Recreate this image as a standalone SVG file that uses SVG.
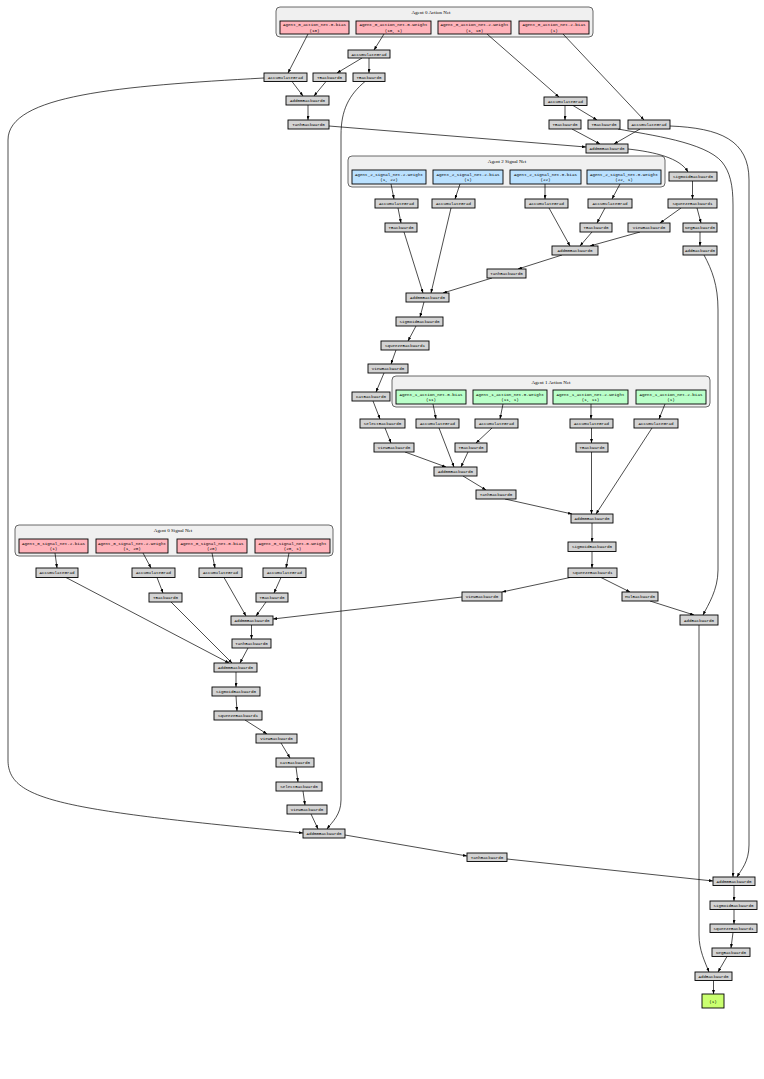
<svg xmlns="http://www.w3.org/2000/svg" width="764" height="1079" viewBox="0 0 764 1079">
<style>
.bg{fill:#ffffff}
.cl{fill:#f0f0f0;stroke:#444;stroke-width:0.8}
.ct{font-family:"Liberation Serif",serif;font-size:5px;fill:#000;text-anchor:middle}
.op rect{fill:#d3d3d3;stroke:#000;stroke-width:0.9}
.pk rect{fill:#ffb3ba;stroke:#000;stroke-width:0.9}
.bl rect{fill:#bae1ff;stroke:#000;stroke-width:0.9}
.gr rect{fill:#baffc9;stroke:#000;stroke-width:0.9}
.out rect{fill:#caff70;stroke:#000;stroke-width:0.9}
text.t{font-family:"Liberation Mono",monospace;font-size:4.2px;fill:#000;text-anchor:middle}
#edges path{fill:none;stroke:#000;stroke-width:0.7;marker-end:url(#ah)}
</style>
<defs>
<marker id="ah" markerUnits="userSpaceOnUse" markerWidth="4" markerHeight="3" refX="4" refY="1.5" orient="auto"><path d="M0,0 L4,1.5 L0,3 z" fill="#000"/></marker>
</defs>
<rect class="bg" x="0" y="0" width="764" height="1079"/>

<g id="cluster_agent0_action"><rect class="cl" x="276" y="7" width="317" height="30" rx="4"/><text class="ct" x="431" y="14">Agent 0 Action Net</text></g>
<g id="cluster_agent2_signal"><rect class="cl" x="348" y="156" width="317" height="31" rx="4"/><text class="ct" x="507" y="163">Agent 2 Signal Net</text></g>
<g id="cluster_agent1_action"><rect class="cl" x="392" y="376" width="318" height="31" rx="4"/><text class="ct" x="551" y="384">Agent 1 Action Net</text></g>
<g id="cluster_agent0_signal"><rect class="cl" x="15" y="525" width="318" height="31" rx="4"/><text class="ct" x="173" y="532">Agent 0 Signal Net</text></g>

<g id="edges">
<path d="M308,34 L288,73"/>
<path d="M384,34 L374,50"/>
<path d="M362,58 L337,73"/>
<path d="M369,58 L369,73"/>
<path d="M292,81.5 L303,96"/>
<path d="M326,81.5 L314,96"/>
<path d="M308,105 L308,120"/>
<path d="M264,78 C120,86 8,95 8,140 L8,760 C8,800 60,810 303,833"/>
<path d="M365,81.5 C349,95 341,110 341,135 L341,800 C341,815 332,822 327,829"/>
<path d="M329,126 L586,147"/>
<path d="M487,34 L559,97"/>
<path d="M563,34 L644,120"/>
<path d="M565,105.5 L565,120"/>
<path d="M573,105.5 L597,120"/>
<path d="M572,129 L600,144"/>
<path d="M640,129 L614,144"/>
<path d="M618,129 C650,135 705,142 722,162 C730,172 733,185 733,205 L733,877"/>
<path d="M670,126 C720,128 749,140 749,180 L749,845 C749,862 741,870 737,877"/>
<path d="M628,149 C655,152 680,158 688,172"/>
<path d="M391,184 L394,199"/>
<path d="M460,184 L455,199"/>
<path d="M545,184 L545,199"/>
<path d="M620,184 L612,199"/>
<path d="M398,208 L401,223"/>
<path d="M605,208 L597,223"/>
<path d="M549,208 L570,246"/>
<path d="M592,232 L580,246"/>
<path d="M640,232 L590,246"/>
<path d="M692.5,181 L692.5,199"/>
<path d="M681,208 L660,223"/>
<path d="M697,208 L701,223"/>
<path d="M700,232 L700,246"/>
<path d="M704,255 C712,270 718,285 718,310 L718,570 C718,590 708,605 703,615"/>
<path d="M562,255 L518,269"/>
<path d="M492,278 L443,293"/>
<path d="M404,232 L423,293"/>
<path d="M451,208 L431,293"/>
<path d="M424,302 L420,317"/>
<path d="M416,326 L408,341"/>
<path d="M396,350 L391,364"/>
<path d="M384,373 L376,392"/>
<path d="M373,401 L380,419"/>
<path d="M385,428 L391,443"/>
<path d="M405,452 L446,467"/>
<path d="M433,404 L436,419"/>
<path d="M503,404 L500,419"/>
<path d="M591,404 L591,419"/>
<path d="M665,404 L659,419"/>
<path d="M439,428 L454,467"/>
<path d="M492,428 L476,443"/>
<path d="M468,452 L461,467"/>
<path d="M591.5,428 L591.5,443"/>
<path d="M591.5,452 L591.5,514"/>
<path d="M652,428 L596,514"/>
<path d="M463,476 L486,490"/>
<path d="M505,499 L572,514"/>
<path d="M592,523 L592,542"/>
<path d="M592,551.5 L592,568"/>
<path d="M570,577.5 L502,592"/>
<path d="M601,577.5 L630,592"/>
<path d="M650,601 L694,615"/>
<path d="M699,625 L699,935 C699,950 705,962 709,972"/>
<path d="M462,597 L273,619"/>
<path d="M55,553 L57,568"/>
<path d="M143,553 L151,568"/>
<path d="M212,553 L215,568"/>
<path d="M289,553 L286,568"/>
<path d="M157,577.5 L163,593"/>
<path d="M281,577.5 L274,593"/>
<path d="M224,577.5 L246,616"/>
<path d="M266,602 L256,616"/>
<path d="M251.5,625 L251.5,639"/>
<path d="M66,577.5 L229,663"/>
<path d="M171,602 L232,663"/>
<path d="M248,648 L240,663"/>
<path d="M236,672 L236,687"/>
<path d="M236,696 L237,711"/>
<path d="M245,720 L267,734"/>
<path d="M281,743 L290,758"/>
<path d="M296,767 L298,782"/>
<path d="M303,791 L305,805"/>
<path d="M311,814 L318,829"/>
<path d="M345,835 L467,856"/>
<path d="M507,859 L713,881"/>
<path d="M734,885.5 L734,901"/>
<path d="M734,909.5 L734,924"/>
<path d="M733,932.5 L731,948"/>
<path d="M727,956.5 L718,972"/>
<path d="M713.5,980.5 L713.5,994"/>
</g>

<g id="n1" class="pk"><rect x="280" y="21" width="69" height="13"/><text class="t" x="314.5" y="26.3">Agent_0_action_net.0.bias</text><text class="t" x="314.5" y="31.5">(10)</text></g>
<g id="n2" class="pk"><rect x="356" y="21" width="75" height="13"/><text class="t" x="393.5" y="26.3">Agent_0_action_net.0.weight</text><text class="t" x="393.5" y="31.5">(10, 1)</text></g>
<g id="n3" class="pk"><rect x="438" y="21" width="73" height="13"/><text class="t" x="474.5" y="26.3">Agent_0_action_net.2.weight</text><text class="t" x="474.5" y="31.5">(1, 10)</text></g>
<g id="n4" class="pk"><rect x="519" y="21" width="70" height="13"/><text class="t" x="554" y="26.3">Agent_0_action_net.2.bias</text><text class="t" x="554" y="31.5">(1)</text></g>

<g id="g1" class="op"><rect x="348" y="50" width="42" height="8"/><text class="t" x="369" y="55.5">AccumulateGrad</text></g>
<g id="g2" class="op"><rect x="264" y="73" width="43" height="8.5"/><text class="t" x="285.5" y="78.8">AccumulateGrad</text></g>
<g id="g3" class="op"><rect x="313" y="73" width="33" height="8.5"/><text class="t" x="329.5" y="78.8">TBackward0</text></g>
<g id="g4" class="op"><rect x="353" y="73" width="32" height="8.5"/><text class="t" x="369" y="78.8">TBackward0</text></g>
<g id="g5" class="op"><rect x="286" y="96" width="43" height="9"/><text class="t" x="307.5" y="102">AddmmBackward0</text></g>
<g id="g6" class="op"><rect x="288" y="120" width="41" height="9"/><text class="t" x="308.5" y="126">TanhBackward0</text></g>
<g id="g7" class="op"><rect x="544" y="97" width="43" height="8.5"/><text class="t" x="565.5" y="102.8">AccumulateGrad</text></g>
<g id="g8" class="op"><rect x="549" y="120" width="32" height="9"/><text class="t" x="565" y="126">TBackward0</text></g>
<g id="g9" class="op"><rect x="588" y="120" width="32" height="9"/><text class="t" x="604" y="126">TBackward0</text></g>
<g id="g10" class="op"><rect x="628" y="120" width="42" height="9"/><text class="t" x="649" y="126">AccumulateGrad</text></g>
<g id="g11" class="op"><rect x="586" y="144" width="42" height="9"/><text class="t" x="607" y="150">AddmmBackward0</text></g>
<g id="g12" class="op"><rect x="669" y="172" width="48" height="9"/><text class="t" x="693" y="178">SigmoidBackward0</text></g>

<g id="n5" class="bl"><rect x="352" y="170" width="74" height="14"/><text class="t" x="389" y="175.8">Agent_2_signal_net.2.weight</text><text class="t" x="389" y="181.2">(1, 22)</text></g>
<g id="n6" class="bl"><rect x="433" y="170" width="70" height="14"/><text class="t" x="468" y="175.8">Agent_2_signal_net.2.bias</text><text class="t" x="468" y="181.2">(1)</text></g>
<g id="n7" class="bl"><rect x="510" y="170" width="71" height="14"/><text class="t" x="545.5" y="175.8">Agent_2_signal_net.0.bias</text><text class="t" x="545.5" y="181.2">(22)</text></g>
<g id="n8" class="bl"><rect x="587" y="170" width="74" height="14"/><text class="t" x="624" y="175.8">Agent_2_signal_net.0.weight</text><text class="t" x="624" y="181.2">(22, 1)</text></g>

<g id="g13" class="op"><rect x="375" y="199" width="43" height="9"/><text class="t" x="396.5" y="205">AccumulateGrad</text></g>
<g id="g14" class="op"><rect x="432" y="199" width="43" height="9"/><text class="t" x="453.5" y="205">AccumulateGrad</text></g>
<g id="g15" class="op"><rect x="525" y="199" width="43" height="9"/><text class="t" x="546.5" y="205">AccumulateGrad</text></g>
<g id="g16" class="op"><rect x="588" y="199" width="44" height="9"/><text class="t" x="610" y="205">AccumulateGrad</text></g>
<g id="g17" class="op"><rect x="668" y="199" width="49" height="9"/><text class="t" x="692.5" y="205">SqueezeBackward1</text></g>
<g id="g18" class="op"><rect x="385" y="223" width="32" height="9"/><text class="t" x="401" y="229">TBackward0</text></g>
<g id="g19" class="op"><rect x="580" y="223" width="32" height="9"/><text class="t" x="596" y="229">TBackward0</text></g>
<g id="g20" class="op"><rect x="628" y="223" width="42" height="9"/><text class="t" x="649" y="229">ViewBackward0</text></g>
<g id="g21" class="op"><rect x="683" y="223" width="34" height="9"/><text class="t" x="700" y="229">NegBackward0</text></g>
<g id="g22" class="op"><rect x="552" y="246" width="46" height="9"/><text class="t" x="575" y="252">AddmmBackward0</text></g>
<g id="g23" class="op"><rect x="683" y="246" width="34" height="9"/><text class="t" x="700" y="252">AddBackward0</text></g>
<g id="g24" class="op"><rect x="487" y="269" width="39" height="9"/><text class="t" x="506.5" y="275">TanhBackward0</text></g>
<g id="g25" class="op"><rect x="406" y="293" width="43" height="9"/><text class="t" x="427.5" y="299">AddmmBackward0</text></g>
<g id="g26" class="op"><rect x="396" y="317" width="47" height="9"/><text class="t" x="419.5" y="323">SigmoidBackward0</text></g>
<g id="g27" class="op"><rect x="381" y="341" width="48" height="9"/><text class="t" x="405" y="347">SqueezeBackward1</text></g>
<g id="g28" class="op"><rect x="368" y="364" width="40" height="9"/><text class="t" x="388" y="370">ViewBackward0</text></g>
<g id="g29" class="op"><rect x="352" y="392" width="38" height="9"/><text class="t" x="371" y="398">CatBackward0</text></g>
<g id="g30" class="op"><rect x="360" y="419" width="45" height="9"/><text class="t" x="382.5" y="425">SelectBackward0</text></g>
<g id="g31" class="op"><rect x="374" y="443" width="40" height="9"/><text class="t" x="394" y="449">ViewBackward0</text></g>

<g id="n9" class="gr"><rect x="396" y="390" width="70" height="14"/><text class="t" x="431" y="395.8">Agent_1_action_net.0.bias</text><text class="t" x="431" y="401.2">(11)</text></g>
<g id="n10" class="gr"><rect x="473" y="390" width="74" height="14"/><text class="t" x="510" y="395.8">Agent_1_action_net.0.weight</text><text class="t" x="510" y="401.2">(11, 1)</text></g>
<g id="n11" class="gr"><rect x="553" y="390" width="75" height="14"/><text class="t" x="590.5" y="395.8">Agent_1_action_net.2.weight</text><text class="t" x="590.5" y="401.2">(1, 11)</text></g>
<g id="n12" class="gr"><rect x="636" y="390" width="70" height="14"/><text class="t" x="671" y="395.8">Agent_1_action_net.2.bias</text><text class="t" x="671" y="401.2">(1)</text></g>

<g id="g32" class="op"><rect x="416" y="419" width="43" height="9"/><text class="t" x="437.5" y="425">AccumulateGrad</text></g>
<g id="g33" class="op"><rect x="475" y="419" width="43" height="9"/><text class="t" x="496.5" y="425">AccumulateGrad</text></g>
<g id="g34" class="op"><rect x="570" y="419" width="43" height="9"/><text class="t" x="591.5" y="425">AccumulateGrad</text></g>
<g id="g35" class="op"><rect x="634" y="419" width="44" height="9"/><text class="t" x="656" y="425">AccumulateGrad</text></g>
<g id="g36" class="op"><rect x="455" y="443" width="32" height="9"/><text class="t" x="471" y="449">TBackward0</text></g>
<g id="g37" class="op"><rect x="576" y="443" width="32" height="9"/><text class="t" x="592" y="449">TBackward0</text></g>
<g id="g38" class="op"><rect x="434" y="467" width="43" height="9"/><text class="t" x="455.5" y="473">AddmmBackward0</text></g>
<g id="g39" class="op"><rect x="476" y="490" width="40" height="9"/><text class="t" x="496" y="496">TanhBackward0</text></g>
<g id="g40" class="op"><rect x="571" y="514" width="42" height="9"/><text class="t" x="592" y="520">AddmmBackward0</text></g>
<g id="g41" class="op"><rect x="568" y="542" width="48" height="9.5"/><text class="t" x="592" y="548.2">SigmoidBackward0</text></g>
<g id="g42" class="op"><rect x="568" y="568" width="49" height="9.5"/><text class="t" x="592.5" y="574.2">SqueezeBackward1</text></g>
<g id="g43" class="op"><rect x="462" y="592" width="40" height="9"/><text class="t" x="482" y="598">ViewBackward0</text></g>
<g id="g44" class="op"><rect x="622" y="592" width="36" height="9"/><text class="t" x="640" y="598">MulBackward0</text></g>
<g id="g45" class="op"><rect x="680" y="615" width="38" height="10"/><text class="t" x="699" y="621.5">AddBackward0</text></g>

<g id="n13" class="pk"><rect x="19" y="539" width="69" height="14"/><text class="t" x="53.5" y="544.8">Agent_0_signal_net.2.bias</text><text class="t" x="53.5" y="550.2">(1)</text></g>
<g id="n14" class="pk"><rect x="96" y="539" width="72" height="14"/><text class="t" x="132" y="544.8">Agent_0_signal_net.2.weight</text><text class="t" x="132" y="550.2">(1, 20)</text></g>
<g id="n15" class="pk"><rect x="177" y="539" width="70" height="14"/><text class="t" x="212" y="544.8">Agent_0_signal_net.0.bias</text><text class="t" x="212" y="550.2">(20)</text></g>
<g id="n16" class="pk"><rect x="255" y="539" width="75" height="14"/><text class="t" x="292.5" y="544.8">Agent_0_signal_net.0.weight</text><text class="t" x="292.5" y="550.2">(20, 1)</text></g>

<g id="g46" class="op"><rect x="36" y="568" width="42" height="9.5"/><text class="t" x="57" y="574.2">AccumulateGrad</text></g>
<g id="g47" class="op"><rect x="132" y="568" width="43" height="9.5"/><text class="t" x="153.5" y="574.2">AccumulateGrad</text></g>
<g id="g48" class="op"><rect x="199" y="568" width="43" height="9.5"/><text class="t" x="220.5" y="574.2">AccumulateGrad</text></g>
<g id="g49" class="op"><rect x="263" y="568" width="43" height="9.5"/><text class="t" x="284.5" y="574.2">AccumulateGrad</text></g>
<g id="g50" class="op"><rect x="149" y="593" width="33" height="9"/><text class="t" x="165.5" y="599">TBackward0</text></g>
<g id="g51" class="op"><rect x="256" y="593" width="32" height="9"/><text class="t" x="272" y="599">TBackward0</text></g>
<g id="g52" class="op"><rect x="231" y="616" width="42" height="9"/><text class="t" x="252" y="622">AddmmBackward0</text></g>
<g id="g53" class="op"><rect x="232" y="639" width="39" height="9"/><text class="t" x="251.5" y="645">TanhBackward0</text></g>
<g id="g54" class="op"><rect x="214" y="663" width="43" height="9"/><text class="t" x="235.5" y="669">AddmmBackward0</text></g>
<g id="g55" class="op"><rect x="212" y="687" width="48" height="9"/><text class="t" x="236" y="693">SigmoidBackward0</text></g>
<g id="g56" class="op"><rect x="214" y="711" width="48" height="9"/><text class="t" x="238" y="717">SqueezeBackward1</text></g>
<g id="g57" class="op"><rect x="256" y="734" width="41" height="9"/><text class="t" x="276.5" y="740">ViewBackward0</text></g>
<g id="g58" class="op"><rect x="276" y="758" width="38" height="9"/><text class="t" x="295" y="764">CatBackward0</text></g>
<g id="g59" class="op"><rect x="276" y="782" width="46" height="9"/><text class="t" x="299" y="788">SelectBackward0</text></g>
<g id="g60" class="op"><rect x="287" y="805" width="40" height="9"/><text class="t" x="307" y="811">ViewBackward0</text></g>
<g id="g61" class="op"><rect x="303" y="829" width="42" height="9"/><text class="t" x="324" y="835">AddmmBackward0</text></g>
<g id="g62" class="op"><rect x="467" y="853" width="40" height="8.5"/><text class="t" x="487" y="858.8">TanhBackward0</text></g>
<g id="g63" class="op"><rect x="713" y="877" width="42" height="8.5"/><text class="t" x="734" y="882.8">AddmmBackward0</text></g>
<g id="g64" class="op"><rect x="710" y="901" width="47" height="8.5"/><text class="t" x="733.5" y="906.8">SigmoidBackward0</text></g>
<g id="g65" class="op"><rect x="710" y="924" width="47" height="8.5"/><text class="t" x="733.5" y="929.8">SqueezeBackward1</text></g>
<g id="g66" class="op"><rect x="712" y="948" width="38" height="8.5"/><text class="t" x="731" y="953.8">NegBackward0</text></g>
<g id="g67" class="op"><rect x="695" y="972" width="37" height="8.5"/><text class="t" x="713.5" y="977.8">AddBackward0</text></g>
<g id="out" class="out"><rect x="702" y="994" width="22" height="14"/><text class="t" x="713" y="1002.5">(1)</text></g>
</svg>
